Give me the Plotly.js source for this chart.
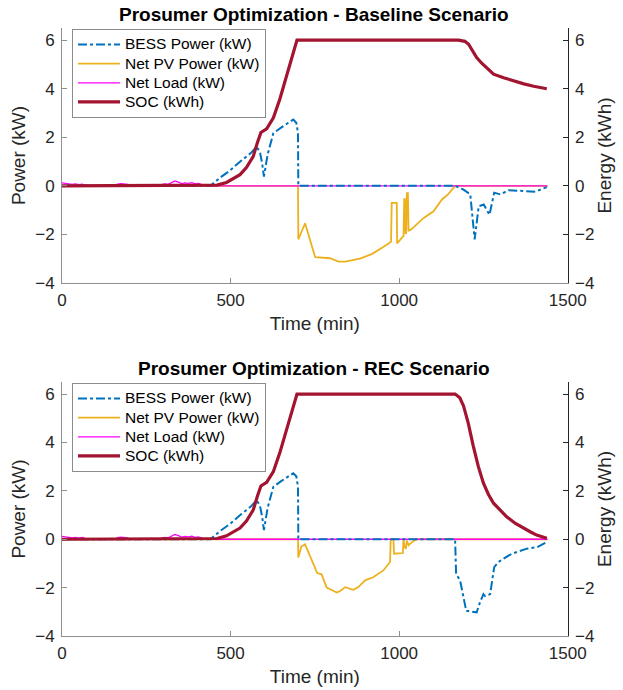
<!DOCTYPE html>
<html>
<head>
<meta charset="utf-8">
<script src="https://cdn.plot.ly/plotly-3.0.1.min.js"></script>
<style>html,body{margin:0;padding:0;background:#fff;}#chart{width:623px;height:690px;}</style>
</head>
<body>
<div id="chart"></div>
<script>
// ---------- Data (time in minutes) ----------
const seriesNames = ['BESS Power (kW)', 'Net PV Power (kW)', 'Net Load (kW)', 'SOC (kWh)'];
const titles = ['Prosumer Optimization - Baseline Scenario', 'Prosumer Optimization - REC Scenario'];

// Net load (same in both scenarios)
const loadT = [0, 10, 20, 30, 40, 50, 60, 68, 75, 160, 165, 175, 185, 195, 200, 290, 296, 305, 315, 325, 335, 345, 355, 365, 375, 385, 395, 405, 419, 425, 1440];
const loadV = [0.12, 0.1, 0.09, 0.06, 0.08, 0.05, 0.07, 0.02, 0, 0, 0.07, 0.09, 0.08, 0.06, 0, 0, 0.05, 0.08, 0.06, 0.12, 0.2, 0.15, 0.09, 0.12, 0.1, 0.13, 0.08, 0.1, 0.05, 0, 0];

// Baseline scenario
const baseBessT = [0, 440, 470, 498, 533, 560, 577, 587, 594, 599, 610, 627, 650, 670, 686, 695, 700, 701, 1166, 1190, 1211, 1224, 1236, 1251, 1258, 1268, 1282, 1300, 1325, 1380, 1404, 1438];
const baseBessV = [0, 0, 0.35, 0.63, 1.05, 1.35, 1.61, 1.4, 0.9, 0.38, 1.3, 2.17, 2.4, 2.6, 2.73, 2.6, 2.17, 0, 0, -0.15, -0.35, -2.2, -0.84, -0.77, -0.95, -1.19, -0.28, -0.35, -0.18, -0.22, -0.24, -0.05];
const basePvT = [0, 700, 701, 721, 751, 795, 820, 840, 884, 920, 953, 973, 976, 978, 993, 994, 1013, 1015, 1017, 1019, 1021, 1023, 1026, 1028, 1037, 1072, 1102, 1127, 1145, 1166, 1440];
const basePvV = [0, 0, -2.2, -1.54, -2.94, -2.98, -3.12, -3.12, -3.0, -2.8, -2.52, -2.34, -2.3, -0.7, -0.7, -2.37, -2.06, -0.55, -0.55, -1.95, -1.95, -0.3, -0.3, -1.86, -1.78, -1.33, -1.05, -0.56, -0.35, 0, 0];
const baseSocT = [0, 440, 460, 488, 528, 547, 567, 580, 590, 607, 627, 646, 667, 685, 697, 1176, 1195, 1206, 1218, 1230, 1245, 1260, 1280, 1310, 1340, 1370, 1399, 1438];
const baseSocV = [0, 0, 0.03, 0.14, 0.46, 0.75, 1.2, 1.8, 2.2, 2.35, 2.8, 3.57, 4.6, 5.5, 6, 6, 5.95, 5.83, 5.55, 5.28, 5.05, 4.87, 4.6, 4.45, 4.31, 4.2, 4.1, 4.0];

// REC scenario
const recBessT = [0, 440, 470, 498, 533, 560, 577, 587, 594, 599, 610, 627, 650, 670, 686, 695, 700, 701, 1166, 1169, 1181, 1199, 1230, 1240, 1250, 1255, 1270, 1282, 1295, 1310, 1334, 1379, 1409, 1440];
const recBessV = [0, 0, 0.35, 0.63, 1.05, 1.35, 1.61, 1.4, 0.9, 0.38, 1.3, 2.17, 2.4, 2.6, 2.73, 2.6, 2.17, 0, 0, -1.43, -1.71, -2.96, -3.02, -2.6, -2.27, -2.35, -2.27, -1.15, -0.94, -0.8, -0.6, -0.39, -0.33, -0.1];
const recPvT = [0, 700, 701, 710, 721, 745, 757, 770, 785, 800, 815, 824, 840, 864, 879, 899, 923, 953, 973, 975, 983, 985, 1011, 1013, 1016, 1020, 1023, 1028, 1040, 1052, 1440];
const recPvV = [0, 0, -0.76, -0.3, -0.21, -1.03, -1.4, -1.45, -2.0, -2.1, -2.2, -2.15, -1.98, -2.09, -1.98, -1.7, -1.57, -1.29, -0.94, 0, 0, -0.6, -0.57, 0, -0.3, -0.4, -0.05, -0.25, -0.1, 0, 0];
const recSocT = [0, 440, 460, 488, 528, 547, 567, 580, 590, 607, 627, 646, 667, 685, 697, 1166, 1180, 1191, 1205, 1220, 1235, 1250, 1265, 1280, 1300, 1319, 1345, 1369, 1390, 1408, 1438];
const recSocV = [0, 0, 0.03, 0.14, 0.46, 0.75, 1.2, 1.8, 2.2, 2.35, 2.8, 3.57, 4.6, 5.5, 6, 6, 5.85, 5.51, 4.8, 3.85, 3.0, 2.32, 1.85, 1.49, 1.18, 0.93, 0.65, 0.45, 0.3, 0.17, 0.04];

const xTicks = [0, 500, 1000, 1500];
const yTicks = [-4, -2, 0, 2, 4, 6];

// ---------- Styles ----------
const FONT = 'Liberation Sans, Arial, Helvetica, sans-serif';
const cBess = '#0072BD', cPv = '#EDB120', cLoad = '#FF00FF', cSoc = '#A2142F';
const greyLine = '#8f8f8f', txt = '#262626';

function legName(s) { return '<span style="font-size:15.5px">' + s + '</span>'; }

function makeTraces(xa, yL, yR, leg, bT, bV, pT, pV, sT, sV) {
  return [
    {x: pT, y: pV, xaxis: xa, yaxis: yL, legend: leg, legendrank: 2, name: legName(seriesNames[1]), type: 'scatter', mode: 'lines', line: {color: cPv, width: 1.8}},
    {x: loadT, y: loadV, xaxis: xa, yaxis: yL, legend: leg, legendrank: 3, name: legName(seriesNames[2]), type: 'scatter', mode: 'lines', line: {color: cLoad, width: 1.3}},
    {x: bT, y: bV, xaxis: xa, yaxis: yL, legend: leg, legendrank: 1, name: legName(seriesNames[0]), type: 'scatter', mode: 'lines', line: {color: cBess, width: 2, dash: 'dashdot'}},
    {x: sT, y: sV, xaxis: xa, yaxis: yR, legend: leg, legendrank: 4, name: legName(seriesNames[3]), type: 'scatter', mode: 'lines', line: {color: cSoc, width: 3.2}}
  ];
}

const data = [].concat(
  makeTraces('x', 'y', 'y2', 'legend', baseBessT, baseBessV, basePvT, basePvV, baseSocT, baseSocV),
  makeTraces('x2', 'y3', 'y4', 'legend2', recBessT, recBessV, recPvT, recPvV, recSocT, recSocV)
);

const xDom = [62 / 623, 567.7 / 623];
const topDom = [1 - 283 / 690, 1 - 28 / 690];
const botDom = [1 - 636 / 690, 1 - 382 / 690];

function xAxis(anchor) {
  return {
    domain: xDom, anchor: anchor, range: [0, 1500], tickvals: xTicks,
    ticks: 'inside', ticklen: 5, tickcolor: greyLine, showline: true, linecolor: greyLine, linewidth: 1,
    showgrid: false, zeroline: false, tickfont: {family: FONT, size: 17, color: txt}, ticklabelstandoff: 2,
    title: {text: 'Time (min)', font: {family: FONT, size: 19, color: txt}, standoff: 7}
  };
}
function yLeft(dom, anchor) {
  return {
    domain: dom, anchor: anchor, range: [-4, 6.5], tickvals: yTicks,
    ticks: 'inside', ticklen: 5, tickcolor: greyLine, showline: true, linecolor: greyLine, linewidth: 1,
    showgrid: false, zeroline: false, tickfont: {family: FONT, size: 17, color: txt}, ticklabelstandoff: 3,
    title: {text: 'Power (kW)', font: {family: FONT, size: 19, color: txt}, standoff: 4}
  };
}
function yRight(over, anchor) {
  return {
    overlaying: over, anchor: anchor, side: 'right', range: [-4, 6.5], tickvals: yTicks,
    ticks: 'inside', ticklen: 5, tickcolor: '#262626', showline: true, linecolor: '#262626', linewidth: 1,
    showgrid: false, zeroline: false, tickfont: {family: FONT, size: 17, color: txt}, ticklabelstandoff: 3,
    title: {text: 'Energy (kWh)', font: {family: FONT, size: 19, color: txt}, standoff: 4}
  };
}
function legendBox(yTop) {
  return {
    x: 72 / 623, xanchor: 'left', y: yTop, yanchor: 'top', bgcolor: '#ffffff',
    bordercolor: '#8c8c8c', borderwidth: 1, font: {family: FONT, size: 12.4, color: '#000'},
    tracegroupgap: 0, traceorder: 'normal', itemwidth: 42
  };
}

const layout = {
  width: 623, height: 690, margin: {l: 0, r: 0, t: 0, b: 0},
  paper_bgcolor: '#ffffff', plot_bgcolor: '#ffffff', showlegend: true, hovermode: false,
  xaxis: xAxis('y'), yaxis: yLeft(topDom, 'x'), yaxis2: yRight('y', 'x'),
  xaxis2: xAxis('y3'), yaxis3: yLeft(botDom, 'x2'), yaxis4: yRight('y3', 'x2'),
  legend: legendBox(1 - 29 / 690), legend2: legendBox(1 - 383 / 690),
  annotations: [
    {text: '<b>' + titles[0] + '</b>', xref: 'paper', yref: 'paper', x: 314 / 623, y: 1 - 15 / 690, xanchor: 'center', yanchor: 'middle', showarrow: false, font: {family: FONT, size: 19, color: '#000'}},
    {text: '<b>' + titles[1] + '</b>', xref: 'paper', yref: 'paper', x: 314 / 623, y: 1 - 368 / 690, xanchor: 'center', yanchor: 'middle', showarrow: false, font: {family: FONT, size: 19, color: '#000'}}
  ]
};

Plotly.newPlot('chart', data, layout, {staticPlot: true, displayModeBar: false});
</script>
</body>
</html>
